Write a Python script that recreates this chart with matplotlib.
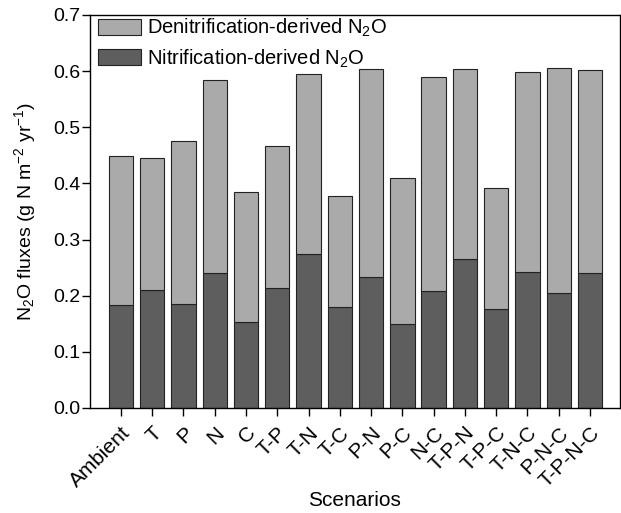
import matplotlib
matplotlib.use("Agg")
import matplotlib.pyplot as plt
import numpy as np

plt.rcParams['font.family'] = ['Liberation Sans', 'DejaVu Sans']
plt.rcParams['mathtext.default'] = 'regular'

scenarios = ["Ambient", "T", "P", "N", "C", "T-P", "T-N", "T-C", "P-N", "P-C",
             "N-C", "T-P-N", "T-P-C", "T-N-C", "P-N-C", "T-P-N-C"]
total = [0.449, 0.446, 0.475, 0.585, 0.385, 0.466, 0.595, 0.378, 0.603, 0.410,
         0.589, 0.604, 0.391, 0.599, 0.605, 0.602]
nitrification = [0.183, 0.211, 0.186, 0.241, 0.153, 0.214, 0.275, 0.179, 0.234, 0.150,
                 0.208, 0.266, 0.177, 0.242, 0.204, 0.241]
denitrification = [t - n for t, n in zip(total, nitrification)]

fig = plt.figure(figsize=(6.21, 5.13), dpi=100)
ax = fig.add_axes([0.1449, 0.2047, 0.853, 0.7661])

x = np.arange(len(scenarios))
light = "#aaaaaa"
dark = "#5e5e5e"
ax.bar(x, nitrification, width=0.78, color=dark, edgecolor="#222222", linewidth=0.8,
       label="Nitrification-derived N$_2$O")
ax.bar(x, denitrification, width=0.78, bottom=nitrification, color=light,
       edgecolor="#222222", linewidth=0.8, label="Denitrification-derived N$_2$O")

fs = 14
ax.set_xlim(-0.99, 15.95)
ax.set_ylim(0, 0.7)
ax.set_yticks(np.arange(0, 0.71, 0.1))
ax.set_yticklabels([f"{v:.1f}" for v in np.arange(0, 0.71, 0.1)])
ax.set_xticks(x)
ax.set_xticklabels(scenarios, rotation=45, ha="right", va="top", rotation_mode="anchor")
ax.tick_params(axis="both", direction="out", length=6, width=1, labelsize=fs)
ax.tick_params(axis="y", pad=1)
ax.tick_params(axis="x", pad=5, labelsize=15)
for s in ax.spines.values():
    s.set_linewidth(1.0)

ax.set_ylabel("N$_2$O fluxes (g N m$^{-2}$ yr$^{-1}$)", fontsize=fs)
ax.yaxis.set_label_coords(-0.098, 0.5)
ax.set_xlabel("Scenarios", fontsize=15)
ax.xaxis.set_label_coords(0.5, -0.212)

h, l = ax.get_legend_handles_labels()
ax.legend(h[::-1], l[::-1], loc="upper left", bbox_to_anchor=(0.012, 1.0),
          frameon=False, fontsize=14.5,
          handlelength=2.1, handleheight=0.85, handletextpad=0.3, labelspacing=0.4,
          borderaxespad=0.0, borderpad=0.1)

fig.savefig("out.png", dpi=100)
